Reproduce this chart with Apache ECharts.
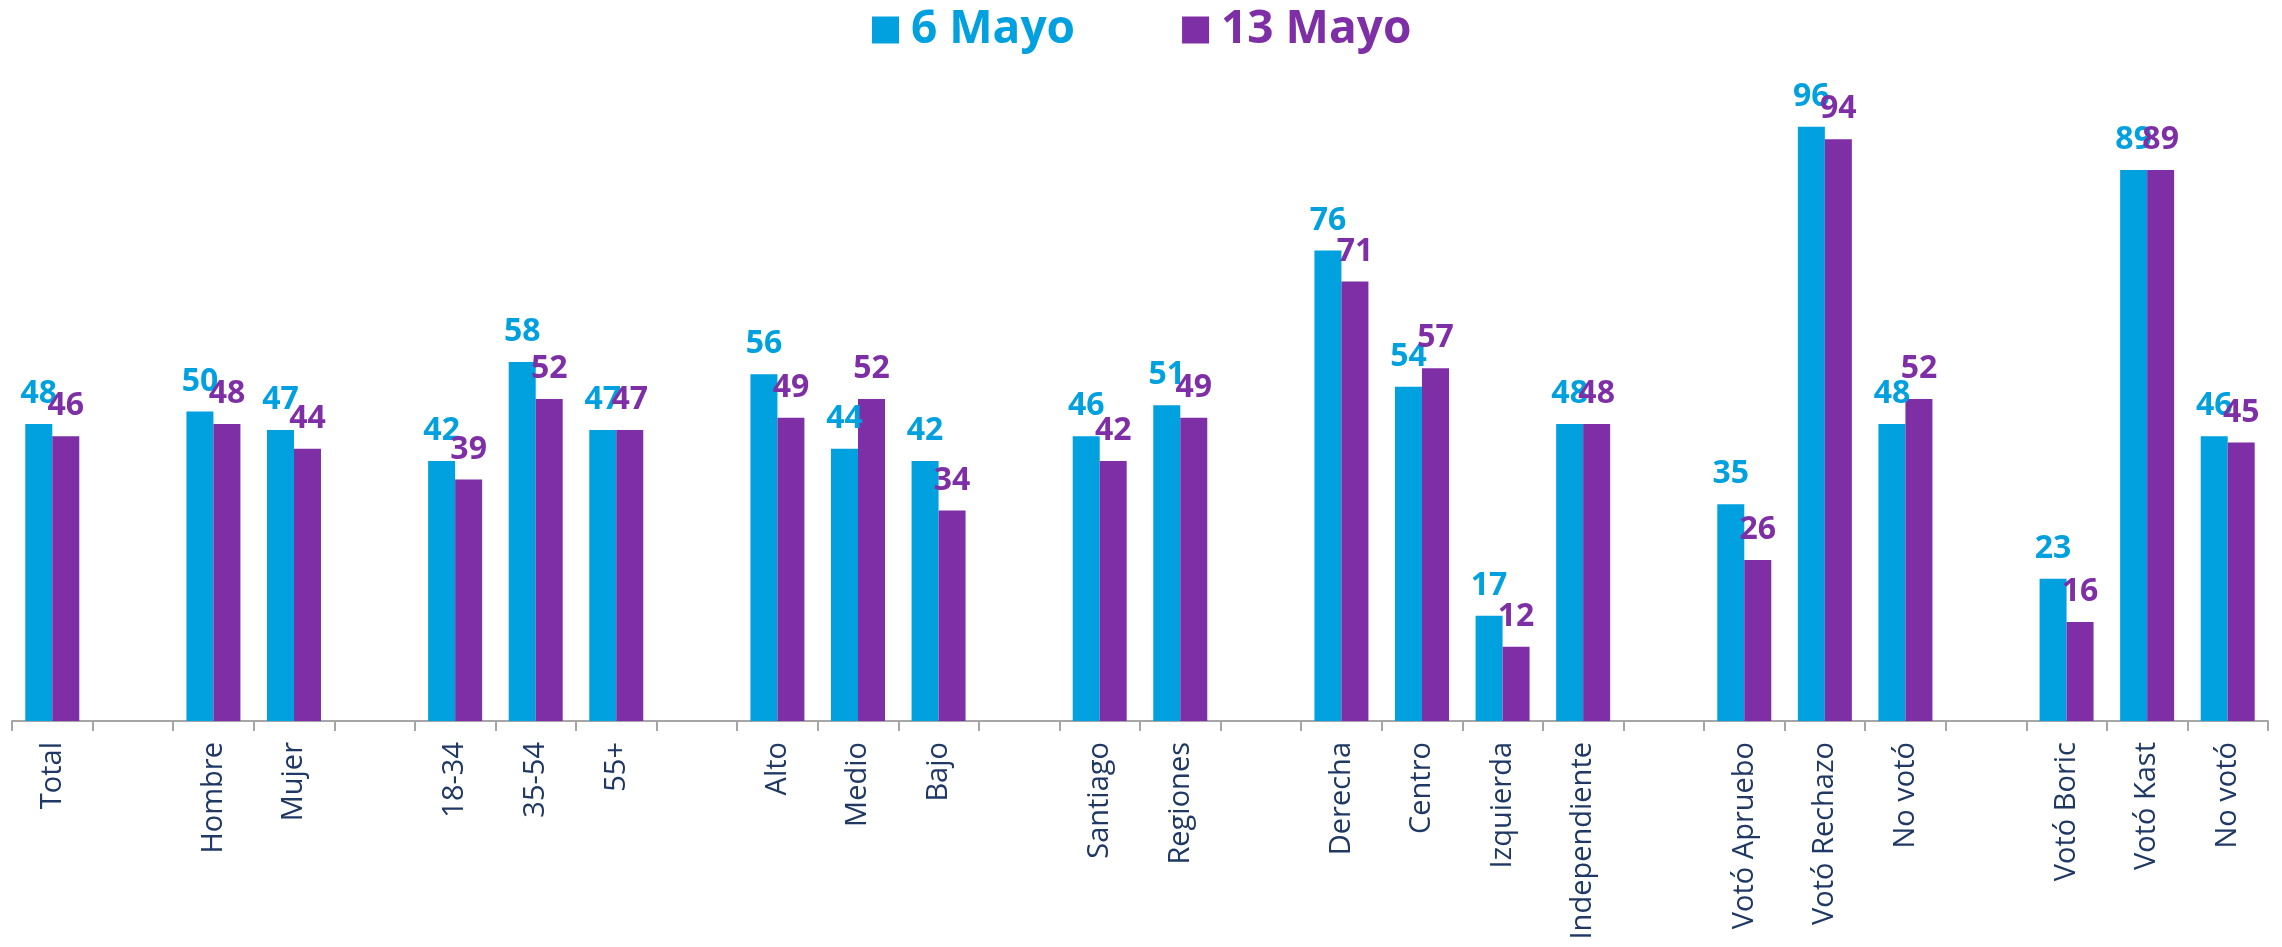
<!DOCTYPE html>
<html>
<head>
<meta charset="utf-8">
<script src="https://cdn.jsdelivr.net/npm/echarts@6/dist/echarts.min.js"></script>
<style>
html,body{margin:0;padding:0;background:#fff;}
#chart{width:2282px;height:947px;}
</style>
</head>
<body>
<div id="chart"></div>
<script>
const categories = ['Total', '', 'Hombre', 'Mujer', '', '18-34', '35-54', '55+', '', 'Alto', 'Medio', 'Bajo', '', 'Santiago', 'Regiones', '', 'Derecha', 'Centro', 'Izquierda', 'Independiente', '', 'Votó Apruebo', 'Votó Rechazo', 'No votó', '', 'Votó Boric', 'Votó Kast', 'No votó'];
const mayo6 = [48, null, 50, 47, null, 42, 58, 47, null, 56, 44, 42, null, 46, 51, null, 76, 54, 17, 48, null, 35, 96, 48, null, 23, 89, 46];
const mayo13 = [46, null, 48, 44, null, 39, 52, 47, null, 49, 52, 34, null, 42, 49, null, 71, 57, 12, 48, null, 26, 94, 52, null, 16, 89, 45];
const seriesNames = ['6 Mayo', '13 Mayo'];
const colors = ['#01A0DF', '#7F2FA6'];

const chart = echarts.init(document.getElementById('chart'));
const FONT = '"Open Sans", sans-serif';
const legendTextWidths = [178, 195];
function makeSeries(name, data, color) {
  return {
    name: name,
    type: 'bar',
    data: data,
    barGap: '0%',
    barCategoryGap: '33%',
    itemStyle: { color: color },
    label: {
      show: true,
      position: 'top',
      distance: 14,
      color: color,
      fontFamily: FONT,
      fontWeight: 'bold',
      fontSize: 32,
      formatter: p => (p.value == null ? '' : p.value)
    }
  };
}
chart.setOption({
  animation: false,
  legend: {
    top: 2,
    left: 867,
    itemWidth: 27,
    itemHeight: 27,
    itemGap: 107,
    icon: 'rect',
    textStyle: { fontFamily: FONT, fontWeight: 'bold', fontSize: 46, padding: [0, 0, 0, 7] },
    data: seriesNames.map((n, i) => ({ name: n, textStyle: { color: colors[i], width: legendTextWidths[i] } }))
  },
  grid: { left: 12, right: 14, top: 102, bottom: 226, containLabel: false },
  xAxis: {
    type: 'category',
    data: categories,
    axisLine: { lineStyle: { color: '#A6A6A6', width: 2 } },
    axisTick: { show: true, length: 10, interval: 0, lineStyle: { color: '#A6A6A6', width: 2 } },
    axisLabel: {
      interval: 0,
      rotate: 90,
      margin: 21,
      color: '#1F3864',
      fontFamily: FONT,
      fontSize: 29
    }
  },
  yAxis: {
    type: 'value',
    min: 0,
    max: 100,
    show: false,
    splitLine: { show: false }
  },
  series: [
    makeSeries(seriesNames[0], mayo6, colors[0]),
    makeSeries(seriesNames[1], mayo13, colors[1])
  ]
});
</script>
</body>
</html>
